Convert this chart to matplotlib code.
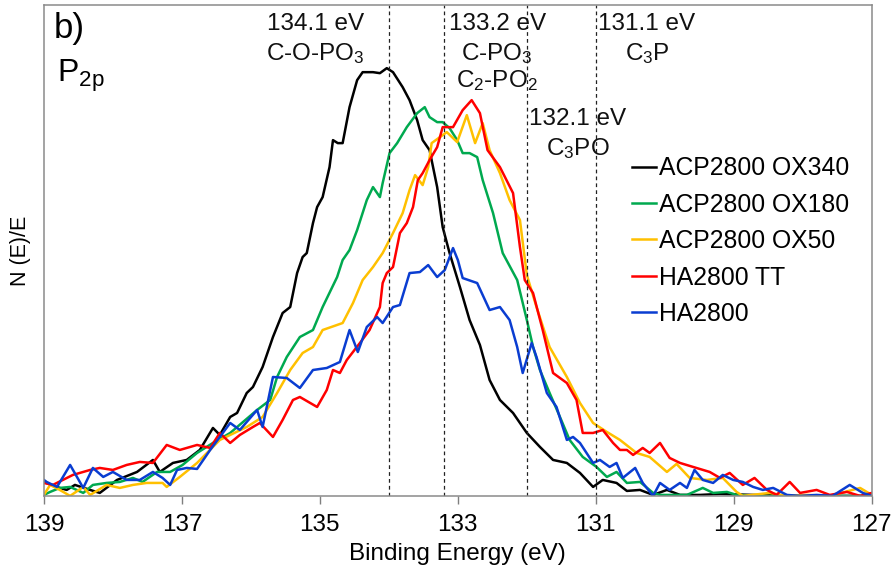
import matplotlib
matplotlib.use("Agg")
import matplotlib.pyplot as plt

plt.rcParams["font.family"] = ["Liberation Sans", "DejaVu Sans"]
plt.rcParams["mathtext.fontset"] = "custom"
plt.rcParams["mathtext.rm"] = "Liberation Sans"
plt.rcParams["mathtext.it"] = "Liberation Sans:italic"

# P2p spectra, binding energy (eV) vs. normalised intensity (arb. units)
ox340_e = [139.00, 138.77, 138.67, 138.55, 138.33, 138.19, 137.94, 137.65, 137.42, 137.32,
           137.13, 136.93, 136.74, 136.55, 136.45, 136.30, 136.20, 136.06, 135.97, 135.83,
           135.68, 135.54, 135.43, 135.33, 135.25, 135.19, 135.10, 135.04, 134.96, 134.86,
           134.81, 134.74, 134.67, 134.57, 134.46, 134.38, 134.23, 134.13, 134.03, 133.94,
           133.80, 133.70, 133.59, 133.51, 133.41, 133.30, 133.22, 133.12, 132.97, 132.83,
           132.68, 132.54, 132.39, 132.20, 132.00, 131.81, 131.62, 131.42, 131.23, 131.04,
           130.90, 130.70, 130.55, 130.36, 130.17, 129.97, 129.78, 129.49, 129.20, 128.72,
           128.04, 127.00]
ox340_i = [14, 8, 6, 11, 6, 3, 16, 24, 36, 24,
           33, 36, 46, 68, 61, 79, 83, 103, 109, 129,
           159, 183, 189, 223, 239, 243, 273, 289, 299, 329,
           356, 353, 353, 389, 416, 424, 424, 423, 428, 424,
           409, 396, 376, 356, 346, 309, 269, 243, 209, 176,
           151, 116, 96, 83, 63, 49, 36, 33, 23, 9,
           16, 13, 5, 6, 1, 6, 1, 1, 2, 1,
           0, 0]

ox180_e = [139.00, 138.91, 138.77, 138.62, 138.43, 138.29, 138.09, 137.90, 137.71, 137.57,
           137.36, 137.17, 136.99, 136.78, 136.55, 136.30, 135.91, 135.72, 135.62, 135.48,
           135.29, 135.10, 134.96, 134.75, 134.67, 134.57, 134.46, 134.32, 134.23, 134.13,
           134.09, 133.99, 133.88, 133.74, 133.59, 133.48, 133.41, 133.30, 133.22, 133.12,
           133.01, 132.93, 132.83, 132.72, 132.64, 132.49, 132.35, 132.14, 132.00, 131.91,
           131.81, 131.67, 131.52, 131.38, 131.19, 130.99, 130.84, 130.70, 130.55, 130.36,
           130.17, 130.07, 129.68, 129.45, 129.30, 129.10, 128.96, 128.62, 127.00]
ox180_i = [1, 4, 8, 9, 3, 11, 13, 14, 18, 14,
           24, 24, 31, 43, 53, 63, 86, 96, 119, 139,
           159, 166, 189, 219, 236, 246, 266, 296, 309, 299,
           313, 343, 353, 369, 383, 389, 379, 374, 374, 368,
           356, 343, 343, 339, 316, 283, 243, 216, 176, 149,
           126, 103, 79, 56, 39, 29, 19, 24, 13, 14,
           3, 1, 1, 8, 3, 4, 1, 0, 0]

ox50_e = [139.00, 138.91, 138.77, 138.62, 138.43, 138.33, 138.09, 137.90, 137.71, 137.51,
          137.28, 137.22, 137.03, 136.78, 136.45, 136.06, 135.83, 135.62, 135.43, 135.25,
          135.10, 134.96, 134.67, 134.52, 134.38, 134.23, 134.09, 133.94, 133.80, 133.70,
          133.62, 133.51, 133.43, 133.38, 133.26, 133.16, 133.01, 132.87, 132.75, 132.64,
          132.54, 132.39, 132.25, 132.10, 132.00, 131.86, 131.67, 131.42, 131.23, 131.04,
          130.84, 130.65, 130.41, 130.22, 129.97, 129.83, 129.64, 129.39, 129.16, 128.96,
          128.87, 128.48, 128.23, 127.94, 127.61, 127.17, 127.00]
ox50_i = [1, 11, 6, 0, 9, 1, 11, 8, 11, 13,
          13, 9, 19, 33, 56, 69, 79, 103, 126, 143,
          149, 166, 173, 193, 216, 229, 243, 263, 283, 306,
          321, 311, 329, 353, 359, 364, 354, 381, 353, 373,
          346, 323, 296, 276, 221, 189, 149, 119, 93, 73,
          64, 56, 43, 39, 24, 32, 18, 16, 18, 4,
          0, 3, 0, 1, 0, 8, 1]

tt_e = [139.00, 138.87, 138.58, 138.33, 138.19, 138.00, 137.80, 137.61, 137.42, 137.22,
        137.03, 136.78, 136.59, 136.45, 136.30, 136.16, 135.97, 135.87, 135.68, 135.54,
        135.39, 135.29, 135.04, 134.90, 134.81, 134.71, 134.61, 134.42, 134.28, 134.13,
        134.09, 134.03, 133.94, 133.84, 133.74, 133.65, 133.58, 133.51, 133.41, 133.30,
        133.22, 133.07, 132.93, 132.80, 132.68, 132.57, 132.39, 132.20, 132.10, 132.03,
        131.91, 131.77, 131.62, 131.42, 131.28, 131.19, 131.04, 130.90, 130.75, 130.65,
        130.55, 130.46, 130.32, 130.22, 130.07, 129.93, 129.78, 129.59, 129.35, 129.20,
        129.06, 128.87, 128.70, 128.52, 128.38, 128.19, 128.04, 127.80, 127.61, 127.36,
        127.17, 127.00]
tt_i = [13, 11, 21, 26, 28, 26, 31, 34, 33, 51,
        46, 51, 48, 63, 53, 61, 69, 73, 59, 76,
        96, 99, 89, 106, 126, 123, 136, 153, 166, 189,
        213, 223, 229, 263, 273, 289, 316, 323, 336, 349,
        369, 369, 386, 396, 383, 346, 329, 303, 249, 216,
        203, 166, 123, 113, 96, 63, 63, 66, 53, 46,
        46, 41, 48, 43, 53, 38, 33, 29, 24, 18,
        23, 11, 18, 6, 1, 14, 3, 6, 1, 4,
        0, 3]

ha_e = [139.00, 138.96, 138.81, 138.62, 138.43, 138.29, 138.14, 138.00, 137.80, 137.61,
        137.42, 137.28, 137.17, 137.07, 136.93, 136.78, 136.59, 136.30, 136.16, 135.91,
        135.83, 135.68, 135.48, 135.29, 135.10, 134.90, 134.71, 134.57, 134.45, 134.32,
        134.17, 134.09, 133.94, 133.84, 133.70, 133.55, 133.43, 133.30, 133.19, 133.07,
        133.00, 132.93, 132.72, 132.54, 132.39, 132.25, 132.14, 132.06, 131.93, 131.86,
        131.71, 131.57, 131.42, 131.33, 131.23, 131.04, 130.94, 130.80, 130.70, 130.61,
        130.43, 130.32, 130.17, 130.07, 129.93, 129.78, 129.68, 129.57, 129.45, 129.30,
        129.16, 129.01, 128.87, 128.72, 128.58, 128.43, 128.23, 128.04, 127.80, 127.57,
        127.32, 127.13, 127.00]
ha_i = [16, 14, 9, 31, 8, 28, 19, 24, 16, 16,
        24, 18, 11, 26, 28, 27, 46, 73, 66, 86,
        69, 119, 118, 108, 126, 128, 134, 166, 144, 169,
        179, 173, 189, 191, 223, 224, 231, 219, 226, 248,
        236, 218, 213, 186, 189, 176, 149, 123, 153, 139,
        103, 89, 56, 59, 53, 33, 36, 29, 33, 18,
        28, 13, 0, 13, 6, 13, 8, 26, 16, 13,
        21, 16, 14, 9, 6, 8, 1, 0, 1, 0,
        11, 3, 0]

series = [
    ("ACP2800 OX340", ox340_e, ox340_i, "#000000"),
    ("ACP2800 OX180", ox180_e, ox180_i, "#00A94F"),
    ("ACP2800 OX50", ox50_e, ox50_i, "#FFC000"),
    ("HA2800 TT", tt_e, tt_i, "#FF0000"),
    ("HA2800", ha_e, ha_i, "#0A3DD1"),
]

ref_lines = [134.0, 133.2, 132.0, 131.0]
# (x in eV, y as axes fraction, text)
ref_labels = [
    (135.06, 0.962, "134.1 eV"),
    (135.06, 0.901, "C-O-PO$_\\mathrm{3}$"),
    (132.43, 0.962, "133.2 eV"),
    (132.43, 0.901, "C-PO$_\\mathrm{3}$"),
    (132.43, 0.846, "C$_\\mathrm{2}$-PO$_\\mathrm{2}$"),
    (131.26, 0.768, "132.1 eV"),
    (131.26, 0.707, "C$_\\mathrm{3}$PO"),
    (130.26, 0.962, "131.1 eV"),
    (130.26, 0.901, "C$_\\mathrm{3}$P"),
]

fig = plt.figure(figsize=(8.96, 5.78), dpi=100)
ax = fig.add_axes([0.049, 0.142, 0.924, 0.849])

for name, e, i, c in series:
    ax.plot(e, i, color=c, lw=1.8, label=name, solid_joinstyle="round")

for x in ref_lines:
    ax.axvline(x, color="#222222", lw=0.9, ls=(0, (3, 2.5)))

for x, y, s in ref_labels:
    ax.text(x, y, s, transform=ax.get_xaxis_transform(), ha="center", va="center",
            fontsize=17.5, color="#111111")

ax.text(0.012, 0.953, "b)", transform=ax.transAxes, fontsize=25, va="center", ha="left")
ax.text(0.016, 0.855, "P$_\\mathrm{2p}$", transform=ax.transAxes, fontsize=23,
        va="center", ha="left")

ax.set_xlim(139, 127)
ax.set_ylim(0, 491)
ax.set_xticks([139, 137, 135, 133, 131, 129, 127])
ax.set_yticks([])
ax.tick_params(axis="x", direction="out", length=6, width=1, color="#7f7f7f",
               labelsize=17.5, pad=7)
for sp in ax.spines.values():
    sp.set_color("#8a8a8a")
    sp.set_linewidth(1.1)

ax.set_xlabel("Binding Energy (eV)", fontsize=17.5, labelpad=5)
ax.set_ylabel("N (E)/E", fontsize=15.5, labelpad=9)

ax.legend(loc="upper left", bbox_to_anchor=(0.698, 0.712), frameon=False, fontsize=17.8,
          handlelength=1.0, handletextpad=0.1, labelspacing=0.5, borderaxespad=0)

fig.savefig("out.png", dpi=100)
